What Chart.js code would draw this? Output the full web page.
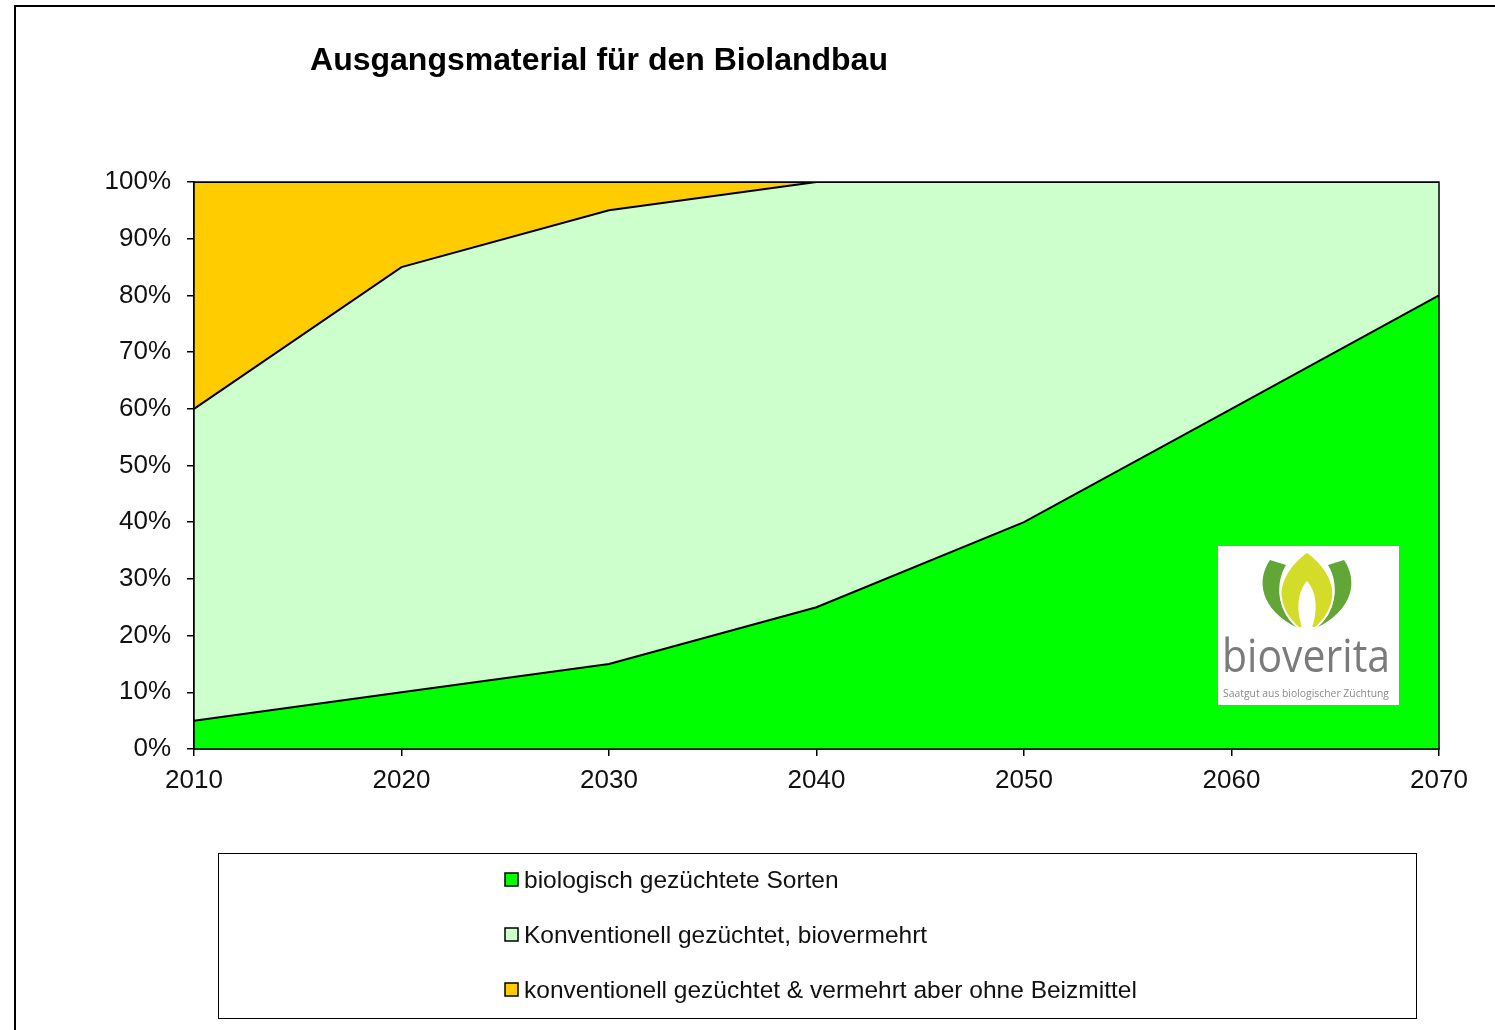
<!DOCTYPE html>
<html>
<head>
<meta charset="utf-8">
<title>Ausgangsmaterial für den Biolandbau</title>
<script src="https://cdn.jsdelivr.net/npm/chart.js@4.4.1/dist/chart.umd.min.js"></script>
<style>
  html, body { margin: 0; padding: 0; background: #fff; }
  #wrap { width: 1495px; height: 1030px; }
</style>
</head>
<body>
<div id="wrap"><canvas id="areaChart" width="1495" height="1030"></canvas></div>
<script>
// --- Daten ---
const jahre = ['2010', '2020', '2030', '2040', '2050', '2060', '2070'];
const bioGezuechtet = [5, 10, 15, 25, 40, 60, 80];
const konvBiovermehrt = [55, 75, 80, 75, 60, 40, 20];
const konvOhneBeize = [40, 15, 5, 0, 0, 0, 0];
const yTicks = [0, 10, 20, 30, 40, 50, 60, 70, 80, 90, 100];

const titel = 'Ausgangsmaterial für den Biolandbau';
const serienNamen = [
    'biologisch gezüchtete Sorten',
    'Konventionell gezüchtet, biovermehrt',
    'konventionell gezüchtet & vermehrt aber ohne Beizmittel'
];
const farben = ['#00FF00', '#CCFFCC', '#FFCC00'];

const FONT = '"Liberation Sans", Arial, sans-serif';

// --- Rahmen, Titel, Legende und Logo ---
const deko = {
    id: 'deko',
    afterDatasetsDraw(chart) {
        const ctx = chart.ctx;
        const a = chart.chartArea;
        ctx.save();
        // Rahmen ums Diagramm
        ctx.strokeStyle = '#000';
        ctx.lineWidth = 1.5;
        ctx.strokeRect(a.left, a.top, a.right - a.left, a.bottom - a.top);
        ctx.restore();
        zeichneLogo(ctx);
    },
    afterDraw(chart) {
        const ctx = chart.ctx;
        ctx.save();
        // äußerer Rahmen
        ctx.strokeStyle = '#000';
        ctx.lineWidth = 2;
        ctx.strokeRect(15, 6, 1600, 1100);

        // Titel
        ctx.fillStyle = '#000';
        ctx.font = 'bold 32px ' + FONT;
        ctx.textAlign = 'center';
        ctx.textBaseline = 'middle';
        ctx.fillText(titel, 599, 61);

        // Legende
        ctx.lineWidth = 1;
        ctx.strokeRect(218.5, 853.5, 1198, 165);
        ctx.font = '24.5px ' + FONT;
        ctx.textAlign = 'left';
        const zeilen = [880, 935, 990];
        chart.data.datasets.forEach((ds, i) => {
            const y = zeilen[i];
            ctx.fillStyle = ds.backgroundColor;
            ctx.fillRect(505, y - 7, 13, 13);
            ctx.strokeStyle = '#000';
            ctx.lineWidth = 1.5;
            ctx.strokeRect(505, y - 7, 13, 13);
            ctx.fillStyle = '#111';
            ctx.fillText(ds.label, 524, y + 1);
        });
        ctx.restore();
    }
};

function zeichneLogo(ctx) {
    ctx.save();
    ctx.fillStyle = '#fff';
    ctx.fillRect(1218, 546, 181, 159);

    const cx = 1307;
    // äußere Blätter (links, dann gespiegelt rechts)
    ctx.fillStyle = '#62A638';
    [-1, 1].forEach(s => {
        ctx.beginPath();
        ctx.moveTo(cx + s * 37, 560);
        ctx.bezierCurveTo(cx + s * 51, 580, cx + s * 47, 610, cx + s * 9, 628);
        ctx.bezierCurveTo(cx + s * 29, 612, cx + s * 33, 585, cx + s * 21, 565);
        ctx.closePath();
        ctx.fill();
    });
    // mittlere Flamme, mit weißem Rand gegen die Blätter
    ctx.beginPath();
    ctx.moveTo(cx, 553);
    ctx.bezierCurveTo(cx - 13, 562, cx - 28, 580, cx - 25, 598);
    ctx.bezierCurveTo(cx - 23, 612, cx - 14, 622, cx - 8, 627);
    ctx.lineTo(cx + 8, 627);
    ctx.bezierCurveTo(cx + 14, 622, cx + 23, 612, cx + 25, 598);
    ctx.bezierCurveTo(cx + 28, 580, cx + 13, 562, cx, 553);
    ctx.strokeStyle = '#fff';
    ctx.lineWidth = 4;
    ctx.stroke();
    ctx.fillStyle = '#D3DD29';
    ctx.fill();
    ctx.fillStyle = '#fff';
    ctx.beginPath();
    ctx.moveTo(cx, 581);
    ctx.bezierCurveTo(cx - 8, 590, cx - 12, 606, cx - 5, 628);
    ctx.lineTo(cx + 5, 628);
    ctx.bezierCurveTo(cx + 12, 606, cx + 8, 590, cx, 581);
    ctx.fill();

    // Schriftzug
    ctx.fillStyle = '#7B7B7B';
    ctx.textAlign = 'left';
    ctx.textBaseline = 'alphabetic';
    ctx.font = '46px "Open Sans", ' + FONT;
    let w = ctx.measureText('bioverita').width;
    ctx.save();
    ctx.translate(1222, 672);
    ctx.scale(168 / w, 1);
    ctx.fillText('bioverita', 0, 0);
    ctx.restore();
    ctx.fillStyle = '#8A8A8A';
    ctx.font = '11px "Open Sans", ' + FONT;
    w = ctx.measureText('Saatgut aus biologischer Züchtung').width;
    ctx.save();
    ctx.translate(1223, 697);
    ctx.scale(166 / w, 1);
    ctx.fillText('Saatgut aus biologischer Züchtung', 0, 0);
    ctx.restore();
    ctx.restore();
}

// --- Chart ---
const datenReihen = [bioGezuechtet, konvBiovermehrt, konvOhneBeize];

new Chart(document.getElementById('areaChart'), {
    type: 'line',
    data: {
        labels: jahre,
        datasets: datenReihen.map((werte, i) => ({
            label: serienNamen[i],
            data: werte,
            backgroundColor: farben[i],
            borderColor: '#000',
            borderWidth: 2,
            pointRadius: 0,
            tension: 0,
            fill: i === 0 ? 'origin' : '-1'
        }))
    },
    options: {
        responsive: false,
        animation: false,
        layout: { padding: { top: 182, right: 56, bottom: 231, left: 0 } },
        plugins: {
            legend: { display: false },
            title: { display: false },
            tooltip: { enabled: false }
        },
        scales: {
            x: {
                offset: false,
                grid: { display: true, drawOnChartArea: false, tickLength: 7, color: '#000', lineWidth: 1.5 },
                border: { color: '#000', width: 1.5 },
                ticks: { color: '#111', font: { family: FONT, size: 26 }, padding: 9, maxRotation: 0 },
                afterFit: s => { s.height = 50; }
            },
            y: {
                stacked: true,
                min: 0,
                max: 100,
                afterBuildTicks: s => { s.ticks = yTicks.map(v => ({ value: v })); },
                grid: { display: true, drawOnChartArea: false, tickLength: 7, color: '#000', lineWidth: 1.5 },
                border: { color: '#000', width: 1.5 },
                ticks: {
                    color: '#111',
                    font: { family: FONT, size: 26 },
                    padding: 16,
                    callback: v => v + '%'
                },
                afterFit: s => { s.width = 194; }
            }
        }
    },
    plugins: [deko]
});
</script>
</body>
</html>
